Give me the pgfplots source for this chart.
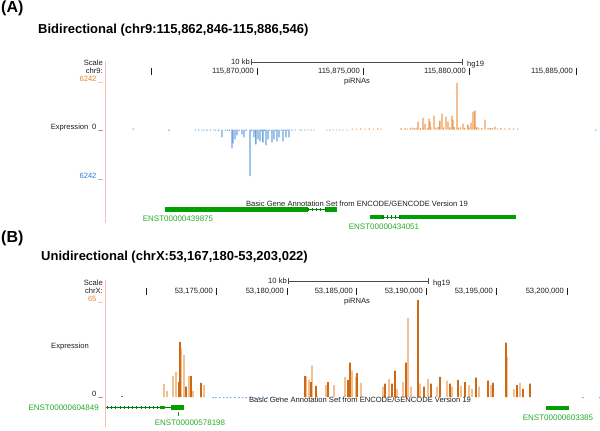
\documentclass[border=0pt]{standalone}
\usepackage{pgfplots}
\pgfplotsset{compat=1.18}
\usepackage{fontspec}
\setmainfont{Liberation Sans}
\definecolor{orgA}{RGB}{236,158,92}
\definecolor{bluA}{RGB}{112,165,225}
\definecolor{orgDk}{RGB}{205,105,20}
\definecolor{orgLt}{RGB}{242,192,145}
\definecolor{orgTxt}{RGB}{232,132,40}
\definecolor{bluTxt}{RGB}{45,120,215}
\definecolor{pinkL}{RGB}{255,185,185}
\definecolor{geneG}{RGB}{0,160,0}
\definecolor{geneT}{RGB}{40,170,40}
\definecolor{txt}{RGB}{30,30,30}
\newcommand\tf{\fontsize{7.6}{9}\selectfont}
\newcommand\gf{\fontsize{8}{9.6}\selectfont}
\pgfplotsset{
  trk/.style={scale only axis, hide axis, clip=false, enlargelimits=false},
  bars/.style={ybar, bar shift=0pt, bar width=#1, draw=none},
}
\begin{document}
\begin{tikzpicture}[x=1pt,y=1pt]
\useasboundingbox (0,0) rectangle (600,-431);
% ================= Panel A =================
\node[anchor=west,inner sep=0,font=\fontsize{16}{18}\selectfont\bfseries] at (1,-8) {(A)};
\node[anchor=west,inner sep=0,font=\fontsize{13}{15}\selectfont\bfseries] at (38,-30) {Bidirectional (chr9:115,862,846-115,886,546)};
\draw[pinkL,line width=0.9pt] (105,-61) -- (105,-223);
\node[anchor=east,inner sep=0,font=\tf,text=txt] at (103,-63) {Scale};
\node[anchor=east,inner sep=0,font=\tf,text=txt] at (103,-71) {chr9:};
\node[anchor=east,inner sep=0,font=\tf,text=orgTxt] at (103,-80) {6242 \_};
\node[anchor=east,inner sep=0,font=\tf,text=txt] at (103,-128) {Expression\enspace 0 \_};
\node[anchor=east,inner sep=0,font=\tf,text=bluTxt] at (103,-177) {6242 \_};
% scale bar
\node[anchor=east,inner sep=0,font=\tf,text=txt] at (250,-62) {10 kb};
\draw[gray!60!black,line width=0.7pt] (251,-62) -- (462,-62);
\draw[gray!60!black,line width=0.7pt] (251,-59) -- (251,-65) (462,-59) -- (462,-65);
\node[anchor=west,inner sep=0,font=\tf,text=txt] at (467,-65) {hg19};
% ruler
\foreach \t in {151,257,363,469,576} \draw[txt,line width=0.6pt] (\t,-67.5) -- (\t,-74.5);
\node[anchor=east,inner sep=0,font=\tf,text=txt] at (254,-71) {115,870,000};
\node[anchor=east,inner sep=0,font=\tf,text=txt] at (360,-71) {115,875,000};
\node[anchor=east,inner sep=0,font=\tf,text=txt] at (466,-71) {115,880,000};
\node[anchor=east,inner sep=0,font=\tf,text=txt] at (573,-71) {115,885,000};
\node[inner sep=0,font=\tf,text=txt] at (357,-82) {piRNAs};
% data track A (x in kb after 115,860,000)
\begin{axis}[trk, at={(105.3pt,-178pt)}, anchor=south west,
  width=502.4pt, height=97pt, xmin=2.846, xmax=26.546, ymin=-6242, ymax=6242]
\addplot[bars=1.3pt, fill=bluA] coordinates {
(7.10,-130)(7.25,-150)(7.40,-120)(7.50,-140)(7.65,-130)(7.80,-160)(7.95,-120)(8.05,-140)
(8.20,-180)(8.50,-150)(8.60,-130)(8.70,-200)(9.15,-220)(9.50,-180)(9.75,-250)(10.20,-200)
(10.35,-180)(10.60,-160)(10.90,-200)(11.15,-150)(11.30,-130)(11.45,-160)(11.65,-130)(11.80,-120)
(12.00,-120)(12.10,-140)(12.25,-120)(12.40,-110)(12.55,-130)(12.70,-120)(13.30,-120)(13.45,-130)
(13.60,-110)(13.75,-120)(13.90,-110)(14.05,-100)(14.25,-110)(5.85,-180)(25.98,-150)};
\addplot[bars=1.3pt, fill=bluA] coordinates {
(8.35,-1020)(8.82,-2430)(8.87,-1790)(8.96,-1280)(9.06,-770)(9.29,-640)(9.39,-1020)(9.67,-6010)
(9.86,-1020)(9.95,-1920)(10.05,-1280)(10.14,-1540)(10.28,-1660)(10.43,-2050)(10.52,-1280)
(10.71,-1660)(10.80,-1280)(10.95,-1540)(11.04,-1020)(11.23,-1540)(11.37,-1020)(11.51,-1020)};
\addplot[bars=1.3pt, fill=orgA] coordinates {
(4.16,150)(14.50,120)(14.70,100)(14.90,130)(15.10,110)(15.30,150)(15.50,100)(15.70,130)(15.85,100)
(16.80,150)(17.00,180)(17.10,120)(17.25,200)(17.45,160)(17.55,250)(17.70,180)(17.85,220)
(18.05,200)(18.20,260)(18.45,240)(18.55,300)(18.80,260)(19.10,280)(19.30,300)(19.50,250)
(19.60,280)(19.80,220)(20.00,260)(20.35,300)(20.45,240)(20.60,200)(20.90,220)(21.00,180)
(21.10,200)(21.35,160)(21.50,180)(21.70,150)(21.90,140)(22.10,130)(22.30,120)};
\addplot[bars=1.3pt, fill=orgA] coordinates {
(17.36,255)(17.60,1019)(17.83,1529)(17.93,764)(18.12,1401)(18.16,1019)(18.35,1784)(18.63,1147)
(18.73,2038)(18.92,1656)(19.01,1019)(19.20,1784)(19.25,1274)(19.44,5988)(19.72,764)(19.95,637)
(20.10,892)(20.19,2293)(20.28,2420)(20.76,1274)(21.23,382)};
\end{axis}
% gene track A
\node[inner sep=0,font=\tf,text=txt] at (357,-203.5) {Basic Gene Annotation Set from ENCODE/GENCODE Version 19};
\begin{axis}[trk, at={(105.3pt,-231pt)}, anchor=south west,
  width=502.4pt, height=31pt, xmin=2.846, xmax=26.546, ymin=-231, ymax=-200]
\addplot[geneG!80!black, line width=0.6pt, mark=+, mark size=1.6pt] coordinates {
(12.41,-209.5)(12.61,-209.5)(12.81,-209.5)(13.01,-209.5)(13.21,-209.5)};
\addplot[geneG, line width=4.5pt] coordinates {(5.66,-209.5)(12.41,-209.5)};
\addplot[geneG, line width=4.5pt] coordinates {(13.21,-209.5)(13.78,-209.5)};
\addplot[geneG!80!black, line width=0.6pt, mark=+, mark size=1.6pt] coordinates {
(15.95,-217)(16.14,-217)(16.33,-217)(16.52,-217)(16.70,-217)};
\addplot[geneG, line width=4.5pt] coordinates {(15.33,-217)(15.95,-217)};
\addplot[geneG, line width=4.5pt] coordinates {(16.70,-217)(22.22,-217)};
\end{axis}
\node[inner sep=0,font=\gf,text=geneT] at (178,-218.5) {ENST00000439875};
\node[inner sep=0,font=\gf,text=geneT] at (384,-227) {ENST00000434051};
% ================= Panel B =================
\node[anchor=west,inner sep=0,font=\fontsize{16}{18}\selectfont\bfseries] at (1,-238) {(B)};
\node[anchor=west,inner sep=0,font=\fontsize{13}{15}\selectfont\bfseries] at (41,-257) {Unidirectional (chrX:53,167,180-53,203,022)};
\draw[pinkL,line width=0.9pt] (105.5,-280) -- (105.5,-427);
\node[anchor=east,inner sep=0,font=\tf,text=txt] at (103,-283) {Scale};
\node[anchor=east,inner sep=0,font=\tf,text=txt] at (103,-291) {chrX:};
\node[anchor=east,inner sep=0,font=\tf,text=orgTxt] at (103,-300) {65 \_};
\node[inner sep=0,font=\tf,text=txt] at (70,-347) {Expression};
\node[anchor=east,inner sep=0,font=\tf,text=txt] at (103,-395) {0 \_};
% scale bar
\node[anchor=east,inner sep=0,font=\tf,text=txt] at (287,-281) {10 kb};
\draw[gray!60!black,line width=0.7pt] (288,-281) -- (428,-281);
\draw[gray!60!black,line width=0.7pt] (288,-278) -- (288,-284) (428,-278) -- (428,-284);
\node[anchor=west,inner sep=0,font=\tf,text=txt] at (433,-284) {hg19};
\foreach \t in {146,216,287,356,426,496,567} \draw[txt,line width=0.6pt] (\t,-287.5) -- (\t,-294.5);
\node[anchor=east,inner sep=0,font=\tf,text=txt] at (213,-291) {53,175,000};
\node[anchor=east,inner sep=0,font=\tf,text=txt] at (284,-291) {53,180,000};
\node[anchor=east,inner sep=0,font=\tf,text=txt] at (353,-291) {53,185,000};
\node[anchor=east,inner sep=0,font=\tf,text=txt] at (423,-291) {53,190,000};
\node[anchor=east,inner sep=0,font=\tf,text=txt] at (493,-291) {53,195,000};
\node[anchor=east,inner sep=0,font=\tf,text=txt] at (564,-291) {53,200,000};
\node[inner sep=0,font=\tf,text=txt] at (357,-302) {piRNAs};
% data track B (x in kb after 53,160,000)
\begin{axis}[trk, at={(105.5pt,-397pt)}, anchor=south west,
  width=503.2pt, height=97pt, xmin=7.18, xmax=43.022, ymin=0, ymax=65]
\addplot[bars=1.5pt, fill=bluA] coordinates {
(14.84,-0.8)(15.05,-0.8)(15.30,-0.8)(15.60,-0.8)(15.85,-0.8)(16.10,-0.8)(16.40,-0.8)(16.70,-0.8)
(16.95,-0.8)(17.20,-0.8)(17.50,-0.8)(17.80,-0.8)(18.10,-0.8)(18.40,-0.8)(18.70,-0.8)(19.00,-0.8)
(19.30,-0.8)(19.60,-0.8)(23.88,-0.8)(41.19,-0.8)(42.40,-0.8)};
\addplot[bars=1.5pt, fill=orgDk] coordinates {(8.35,1)};
\addplot[bars=1.8pt, fill=orgLt] coordinates {
(11.35,8.8)(11.56,4)(11.99,14)(12.20,17)(12.56,33)(12.77,28)(13.13,14)(13.41,4)(14.20,8)
(21.46,14)(21.67,11.5)(21.89,21)(22.89,8)(23.45,8)(24.24,13.5)(24.74,17.6)(25.02,13.5)(25.38,9.5)
(26.95,7)(27.37,12)(27.94,5.4)(28.37,10)(28.72,53)(28.94,7)(29.58,9)(30.15,12)(30.79,7)(31.50,11)
(31.86,7)(32.50,7.5)(33.07,8)(33.28,5.4)(33.78,7)(34.64,8)(35.78,27)(36.28,5.4)(36.70,9.5)};
\addplot[bars=1.8pt, fill=orgDk] coordinates {
(12.49,37)(12.42,10)(12.91,7)(13.27,14)(13.98,9.5)(21.39,14)(21.82,10)(22.17,7.5)(23.03,10)
(24.59,23)(25.09,16)(24.45,11.5)(27.09,9)(27.59,9)(27.80,17.6)(28.58,23)(29.44,65)(29.86,7)
(30.36,9)(31.00,13.5)(31.72,9)(32.29,11.5)(32.78,10)(33.57,13)(34.42,11)(34.78,9.5)(35.71,36.5)
(36.49,8)(36.92,5.4)(37.42,9)};
\end{axis}
% gene track B
\node[inner sep=0,font=\tf,text=txt] at (360,-399.5) {Basic Gene Annotation Set from ENCODE/GENCODE Version 19};
\begin{axis}[trk, at={(105.5pt,-431pt)}, anchor=south west,
  width=503.2pt, height=31pt, xmin=7.18, xmax=43.022, ymin=-431, ymax=-400]
\addplot[geneG!80!black, line width=0.6pt, mark=+, mark size=1.6pt] coordinates {
(7.30,-407.5)(7.60,-407.5)(7.90,-407.5)(8.20,-407.5)(8.50,-407.5)(8.80,-407.5)(9.10,-407.5)
(9.40,-407.5)(9.70,-407.5)(10.00,-407.5)(10.30,-407.5)(10.60,-407.5)(10.90,-407.5)};
\addplot[geneG!80!black, line width=0.6pt] coordinates {(10.90,-407.5)(11.85,-407.5)};
\addplot[geneG, line width=3pt] coordinates {(11.06,-407.5)(11.42,-407.5)};
\addplot[geneG, line width=4.5pt] coordinates {(11.85,-407.5)(12.77,-407.5)};
\addplot[geneG, line width=0.8pt] coordinates {(12.34,-412)(12.34,-416)};
\addplot[geneG, line width=4.5pt] coordinates {(38.55,-408)(40.19,-408)};
\end{axis}
\node[anchor=east,inner sep=0,font=\gf,text=geneT] at (99,-408) {ENST00000604849};
\node[inner sep=0,font=\gf,text=geneT] at (190,-423) {ENST00000578198};
\node[inner sep=0,font=\gf,text=geneT] at (558,-418) {ENST00000603385};
\end{tikzpicture}
\end{document}
